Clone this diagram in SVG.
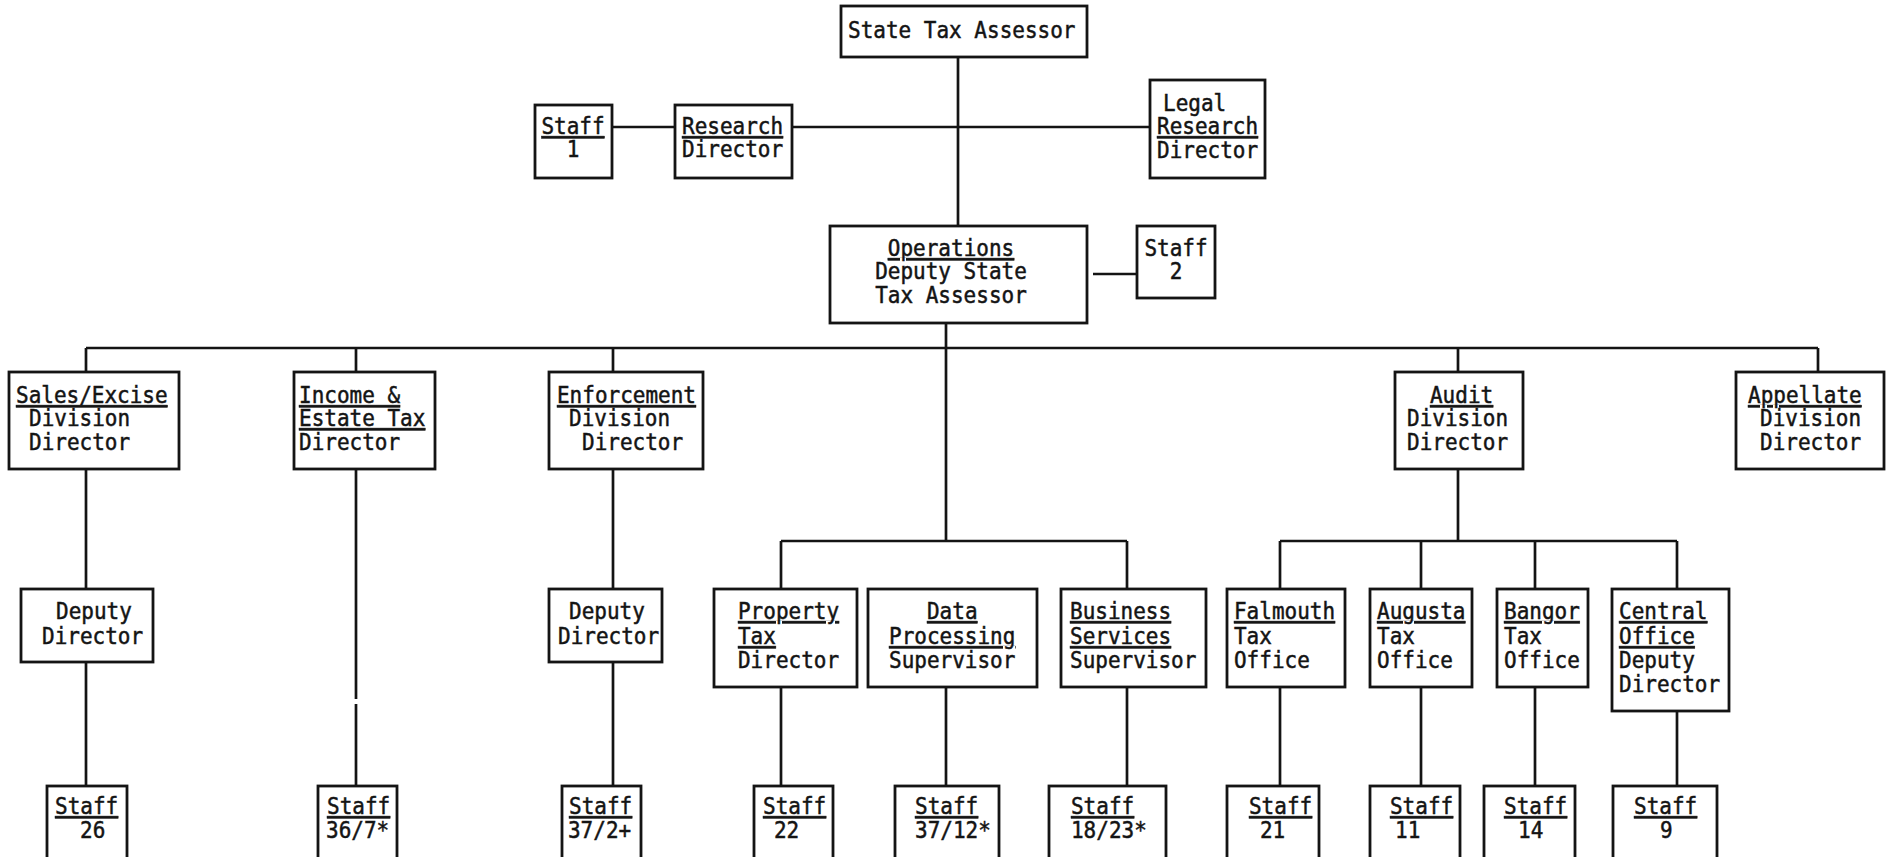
<svg xmlns="http://www.w3.org/2000/svg" width="1894" height="857" viewBox="0 0 1894 857">
  <style>
    .box { fill: #ffffff; stroke: #141414; stroke-width: 2.8; }
    .wire { fill: none; stroke: #141414; stroke-width: 2.7; }
    text { font-family: "DejaVu Sans Mono", "Liberation Mono", monospace; font-size: 21px; fill: #141414;
           stroke: #141414; stroke-width: 0.45;
           transform-box: fill-box; transform-origin: 50% 80%; transform: scaleY(1.1); }
    .u { text-decoration: underline; }
    .m { text-anchor: middle; }
  </style>
  <rect width="1894" height="857" fill="#ffffff"/>

  <!-- connectors -->
  <g id="connectors">
    <path class="wire" d="M958 57V226"/>
    <path class="wire" d="M612 127H675M792 127H1150"/>
    <path class="wire" d="M1093 274H1137"/>
    <path class="wire" d="M946 323V541"/>
    <path class="wire" d="M86 348H1818"/>
    <path class="wire" d="M86 348V372M356 348V372M613 348V372M1458 348V372M1818 348V372"/>
    <path class="wire" d="M86 469V589M86 662V786"/>
    <path class="wire" d="M356 469V699M356 704V786"/>
    <path class="wire" d="M613 469V589M613 662V786"/>
    <path class="wire" d="M781 541H1127M781 541V589M1127 541V589"/>
    <path class="wire" d="M1458 469V541M1280 541H1677M1280 541V589M1421 541V589M1535 541V589M1677 541V589"/>
    <path class="wire" d="M781 687V786M946 687V786M1127 687V786M1280 687V786M1421 687V786M1535 687V786M1677 711V786"/>
  </g>

  <!-- top level -->
  <g id="state-tax-assessor">
    <rect class="box" x="841" y="6" width="246" height="51"/>
    <text x="848" y="38">State Tax Assessor</text>
  </g>
  <g id="research-staff">
    <rect class="box" x="535" y="105" width="77" height="73"/>
    <text class="m u" x="573" y="134">Staff</text>
    <text class="m" x="573" y="157">1</text>
  </g>
  <g id="research-director">
    <rect class="box" x="675" y="105" width="117" height="73"/>
    <text class="u" x="682" y="134">Research</text>
    <text x="682" y="157">Director</text>
  </g>
  <g id="legal-research-director">
    <rect class="box" x="1150" y="80" width="115" height="98"/>
    <text x="1163" y="111">Legal</text>
    <text class="u" x="1157" y="134">Research</text>
    <text x="1157" y="158">Director</text>
  </g>
  <g id="operations">
    <rect class="box" x="830" y="226" width="257" height="97"/>
    <text class="m u" x="951" y="256">Operations</text>
    <text class="m" x="951" y="279">Deputy State</text>
    <text class="m" x="951" y="303">Tax Assessor</text>
  </g>
  <g id="operations-staff">
    <rect class="box" x="1137" y="226" width="78" height="72"/>
    <text class="m" x="1176" y="256">Staff</text>
    <text class="m" x="1176" y="279">2</text>
  </g>

  <!-- divisions -->
  <g id="sales-excise">
    <rect class="box" x="9" y="372" width="170" height="97"/>
    <text class="u" x="16" y="403">Sales/Excise</text>
    <text x="29" y="426">Division</text>
    <text x="29" y="450">Director</text>
  </g>
  <g id="income-estate">
    <rect class="box" x="294" y="372" width="141" height="97"/>
    <text class="u" x="299" y="403">Income &amp;</text>
    <text class="u" x="299" y="426">Estate Tax</text>
    <text x="299" y="450">Director</text>
  </g>
  <g id="enforcement">
    <rect class="box" x="549" y="372" width="154" height="97"/>
    <text class="u" x="557" y="403">Enforcement</text>
    <text x="569" y="426">Division</text>
    <text x="582" y="450">Director</text>
  </g>
  <g id="audit">
    <rect class="box" x="1395" y="372" width="128" height="97"/>
    <text class="u" x="1430" y="403">Audit</text>
    <text x="1407" y="426">Division</text>
    <text x="1407" y="450">Director</text>
  </g>
  <g id="appellate">
    <rect class="box" x="1736" y="372" width="148" height="97"/>
    <text class="u" x="1748" y="403">Appellate</text>
    <text x="1760" y="426">Division</text>
    <text x="1760" y="450">Director</text>
  </g>

  <!-- deputies, sections and offices -->
  <g id="sales-deputy">
    <rect class="box" x="21" y="589" width="132" height="73"/>
    <text x="56" y="619">Deputy</text>
    <text x="42" y="644">Director</text>
  </g>
  <g id="enforcement-deputy">
    <rect class="box" x="549" y="589" width="113" height="73"/>
    <text x="569" y="619">Deputy</text>
    <text x="558" y="644">Director</text>
  </g>
  <g id="property-tax">
    <rect class="box" x="714" y="589" width="143" height="98"/>
    <text class="u" x="738" y="619">Property</text>
    <text class="u" x="738" y="644">Tax</text>
    <text x="738" y="668">Director</text>
  </g>
  <g id="data-processing">
    <rect class="box" x="868" y="589" width="169" height="98"/>
    <text class="u" x="927" y="619">Data</text>
    <text class="u" x="889" y="644">Processing</text>
    <text x="889" y="668">Supervisor</text>
  </g>
  <g id="business-services">
    <rect class="box" x="1061" y="589" width="145" height="98"/>
    <text class="u" x="1070" y="619">Business</text>
    <text class="u" x="1070" y="644">Services</text>
    <text x="1070" y="668">Supervisor</text>
  </g>
  <g id="falmouth">
    <rect class="box" x="1227" y="589" width="118" height="98"/>
    <text class="u" x="1234" y="619">Falmouth</text>
    <text x="1234" y="644">Tax</text>
    <text x="1234" y="668">Office</text>
  </g>
  <g id="augusta">
    <rect class="box" x="1370" y="589" width="102" height="98"/>
    <text class="u" x="1377" y="619">Augusta</text>
    <text x="1377" y="644">Tax</text>
    <text x="1377" y="668">Office</text>
  </g>
  <g id="bangor">
    <rect class="box" x="1497" y="589" width="91" height="98"/>
    <text class="u" x="1504" y="619">Bangor</text>
    <text x="1504" y="644">Tax</text>
    <text x="1504" y="668">Office</text>
  </g>
  <g id="central-office">
    <rect class="box" x="1612" y="589" width="117" height="122"/>
    <text class="u" x="1619" y="619">Central</text>
    <text class="u" x="1619" y="644">Office</text>
    <text x="1619" y="668">Deputy</text>
    <text x="1619" y="692">Director</text>
  </g>

  <!-- staff counts -->
  <g id="staff-26">
    <rect class="box" x="47" y="786" width="80" height="76"/>
    <text class="u" x="55" y="814">Staff</text>
    <text x="80" y="838">26</text>
  </g>
  <g id="staff-36-7">
    <rect class="box" x="318" y="786" width="79" height="76"/>
    <text class="u" x="327" y="814">Staff</text>
    <text x="326" y="838">36/7*</text>
  </g>
  <g id="staff-37-2">
    <rect class="box" x="562" y="786" width="79" height="76"/>
    <text class="u" x="569" y="814">Staff</text>
    <text x="568" y="838">37/2+</text>
  </g>
  <g id="staff-22">
    <rect class="box" x="754" y="786" width="79" height="76"/>
    <text class="u" x="763" y="814">Staff</text>
    <text x="774" y="838">22</text>
  </g>
  <g id="staff-37-12">
    <rect class="box" x="895" y="786" width="104" height="76"/>
    <text class="u" x="915" y="814">Staff</text>
    <text x="915" y="838">37/12*</text>
  </g>
  <g id="staff-18-23">
    <rect class="box" x="1049" y="786" width="117" height="76"/>
    <text class="u" x="1071" y="814">Staff</text>
    <text x="1071" y="838">18/23*</text>
  </g>
  <g id="staff-21">
    <rect class="box" x="1227" y="786" width="92" height="76"/>
    <text class="u" x="1249" y="814">Staff</text>
    <text x="1260" y="838">21</text>
  </g>
  <g id="staff-11">
    <rect class="box" x="1370" y="786" width="90" height="76"/>
    <text class="u" x="1390" y="814">Staff</text>
    <text x="1395" y="838">11</text>
  </g>
  <g id="staff-14">
    <rect class="box" x="1484" y="786" width="91" height="76"/>
    <text class="u" x="1504" y="814">Staff</text>
    <text x="1518" y="838">14</text>
  </g>
  <g id="staff-9">
    <rect class="box" x="1613" y="786" width="104" height="76"/>
    <text class="u" x="1634" y="814">Staff</text>
    <text x="1660" y="838">9</text>
  </g>
</svg>
